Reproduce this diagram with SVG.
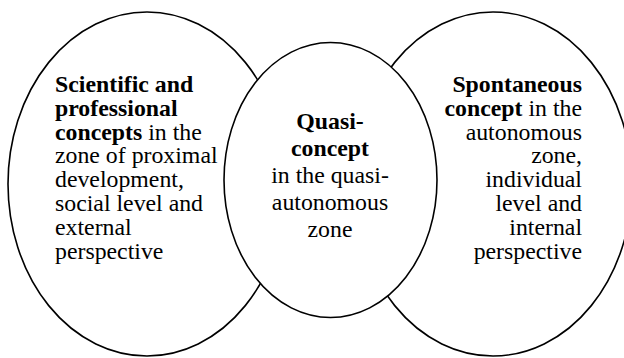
<svg xmlns="http://www.w3.org/2000/svg" width="624" height="358" viewBox="0 0 624 358">
<style>
.sh{fill:#fff;stroke:#000;stroke-width:1.6}
.t{font-family:"Liberation Serif","Times New Roman",serif;font-size:23.8px;fill:#000}
.b{font-weight:bold}
.m{text-anchor:middle}
.e{text-anchor:end}
</style>
<rect width="624" height="358" fill="#fff"/>
<g id="left">
<ellipse class="sh" cx="147" cy="184" rx="139" ry="172"/>
<text class="t" x="55" y="92"><tspan class="b">Scientific and</tspan></text>
<text class="t" x="55" y="115.8"><tspan class="b">professional</tspan></text>
<text class="t" x="55" y="139.6"><tspan class="b">concepts</tspan> in the</text>
<text class="t" x="55" y="163.4">zone of proximal</text>
<text class="t" x="55" y="187.2">development,</text>
<text class="t" x="55" y="211">social level and</text>
<text class="t" x="55" y="234.8">external</text>
<text class="t" x="55" y="258.6">perspective</text>
</g>
<g id="right">
<ellipse class="sh" cx="493" cy="184" rx="139" ry="172"/>
<text class="t e" x="582" y="92"><tspan class="b">Spontaneous</tspan></text>
<text class="t e" x="582" y="115.8"><tspan class="b">concept</tspan> in the</text>
<text class="t e" x="582" y="139.6">autonomous</text>
<text class="t e" x="582" y="163.4">zone,</text>
<text class="t e" x="582" y="187.2">individual</text>
<text class="t e" x="582" y="211">level and</text>
<text class="t e" x="582" y="234.8">internal</text>
<text class="t e" x="582" y="258.6">perspective</text>
</g>
<g id="middle">
<ellipse class="sh" cx="330.5" cy="180" rx="106.5" ry="137.5"/>
<text class="t m b" x="330" y="128.5">Quasi-</text>
<text class="t m b" x="330" y="155.5">concept</text>
<text class="t m" x="330" y="182.5">in the quasi-</text>
<text class="t m" x="330" y="209.5">autonomous</text>
<text class="t m" x="330" y="236.5">zone</text>
</g>
<g id="connectors"/>
</svg>
